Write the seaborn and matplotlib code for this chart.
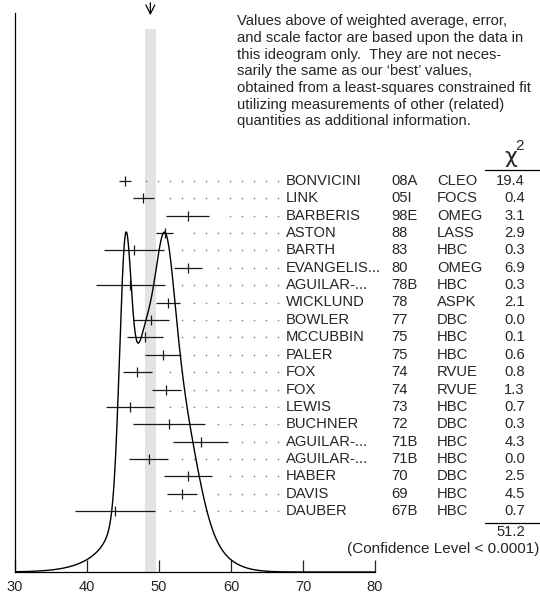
"""PDG-style ideogram of mass measurements with the weighted average band."""

import matplotlib
matplotlib.use("Agg")
import matplotlib.pyplot as plt
import numpy as np
import seaborn as sns

# measurements, top row first
authors = [
    "BONVICINI", "LINK", "BARBERIS", "ASTON", "BARTH", "EVANGELIS...",
    "AGUILAR-...", "WICKLUND", "BOWLER", "MCCUBBIN", "PALER", "FOX", "FOX",
    "LEWIS", "BUCHNER", "AGUILAR-...", "AGUILAR-...", "HABER", "DAVIS", "DAUBER",
]
years = [
    "08A", "05I", "98E", "88", "83", "80", "78B", "78", "77", "75", "75",
    "74", "74", "73", "72", "71B", "71B", "70", "69", "67B",
]
experiments = [
    "CLEO", "FOCS", "OMEG", "LASS", "HBC", "OMEG", "HBC", "ASPK", "DBC", "HBC",
    "HBC", "RVUE", "RVUE", "HBC", "DBC", "HBC", "HBC", "DBC", "HBC", "HBC",
]
values = [
    45.3, 47.8, 54.0, 50.8, 46.5, 54.0, 46.0, 51.2, 48.9, 48.0,
    50.6, 47.0, 51.0, 46.0, 51.4, 55.8, 48.6, 54.0, 53.2, 43.9,
]
errors = [
    0.8, 1.45, 3.0, 1.2, 4.2, 1.95, 4.8, 1.65, 2.45, 2.5,
    2.5, 2.0, 2.0, 3.3, 5.0, 3.8, 2.7, 3.3, 2.1, 5.5,
]
chi2 = [
    19.4, 0.4, 3.1, 2.9, 0.3, 6.9, 0.3, 2.1, 0.0, 0.1,
    0.6, 0.8, 1.3, 0.7, 0.3, 4.3, 0.0, 2.5, 4.5, 0.7,
]
chi2_total = 51.2
confidence_label = "(Confidence Level < 0.0001)"
weighted_avg = 48.8
weighted_err = 0.74
x_ticks = [30, 40, 50, 60, 70, 80]

note_lines = [
    "Values above of weighted average, error,",
    "and scale factor are based upon the data in",
    "this ideogram only.  They are not neces-",
    "sarily the same as our \u2018best\u2019 values,",
    "obtained from a least-squares constrained fit",
    "utilizing measurements of other (related)",
    "quantities as additional information.",
]

sns.set_style("white")
plt.rcParams["font.family"] = ["Liberation Sans", "DejaVu Sans"]

W, H = 540, 595
fig = plt.figure(figsize=(W / 100, H / 100), dpi=100)
ax = fig.add_axes([15 / W, 23 / H, 360 / W, 559 / H])

rows = np.arange(len(values))
vals = np.array(values)
errs = np.array(errors)

# row units: row 0 sits 167.7 px below the top of the axes, rows 17.4 px apart
row_px = 17.4
y_top = -167.7 / row_px
y_bot = y_top + 559 / row_px
ax.set_xlim(30, 80)
ax.set_ylim(y_bot, y_top)

# weighted-average band and arrow
band_top = 1 - 16 / 559
ax.axvspan(weighted_avg - weighted_err, weighted_avg + weighted_err,
           ymin=0, ymax=band_top, color="#e3e3e3", lw=0, zorder=0)
ax.annotate("", xy=(weighted_avg, y_top + 5 / row_px),
            xytext=(weighted_avg, y_top - 13 / row_px),
            arrowprops=dict(arrowstyle="->", color="black", lw=0.9,
                            mutation_scale=16),
            annotation_clip=False)

# error bars with a centre tick
ax.errorbar(vals, rows, xerr=errs, fmt="none", ecolor="#1a1a1a",
            elinewidth=0.9, capsize=0, zorder=3)
ax.plot(vals, rows, ls="none", marker="|", ms=7.5, mew=0.9, color="#1a1a1a",
        zorder=3)

# dotted leaders to the names
dot_grid = np.arange(48.19, 66.6, 12 / 7.2)
for r, v, e in zip(rows, vals, errs):
    dots = dot_grid[dot_grid > v + e + 1.5]
    ax.plot(dots, np.full(len(dots), r), ls="none", marker="s", ms=1.0,
            mew=0, color="#777777", zorder=2)

# ideogram curve: one gaussian per measurement, area ~ 1/sigma
xs = np.linspace(30, 80, 1200)
curve = np.zeros_like(xs)
for v, e in zip(vals, errs):
    curve += np.exp(-0.5 * ((xs - v) / e) ** 2) / e ** 2
ax2 = ax.twinx()
ax2.set_ylim(0, curve.max() * 559 / 340)
ax2.plot(xs, curve, color="black", lw=1.0)
ax2.set_axis_off()

# text columns
fs = 10.6
for r in rows:
    ax.text(67.65, r, authors[r], fontsize=fs, va="center", ha="left")
    ax.text(82.3, r, years[r], fontsize=fs, va="center", ha="left")
    ax.text(88.6, r, experiments[r], fontsize=fs, va="center", ha="left")
    ax.text(100.8, r, f"{chi2[r]:.1f}", fontsize=fs, va="center", ha="right")

x_px = lambda px: 30 + (px - 15) / 7.2
y_px = lambda py: y_top + (py - 13) / row_px

ax.text(x_px(511), y_px(157), "\u03c7", fontsize=16, ha="center",
        va="center", family="DejaVu Sans")
ax.text(x_px(520), y_px(146), "2", fontsize=11, ha="center", va="center")
ax.plot([x_px(485), x_px(540)], [y_px(169.5)] * 2, color="black", lw=0.9,
        clip_on=False)
ax.plot([x_px(485), x_px(540)], [y_px(523.3)] * 2, color="black", lw=0.9,
        clip_on=False)
ax.text(100.8, y_px(532), f"{chi2_total:.1f}", fontsize=fs, ha="right",
        va="center")
ax.text(x_px(539), y_px(549.5), confidence_label, fontsize=11, ha="right",
        va="center")

for i, line in enumerate(note_lines):
    ax.text(x_px(237), y_px(21.5 + 16.6 * i), line, fontsize=10.7,
            ha="left", va="center")

# axes styling
ax.set_yticks([])
ax.set_xticks(x_ticks)
ax.tick_params(axis="x", direction="in", length=9, width=0.9, labelsize=10.5,
               pad=6, bottom=True)
for side in ["top", "right"]:
    ax.spines[side].set_visible(False)
for side in ["left", "bottom"]:
    ax.spines[side].set_color("black")
    ax.spines[side].set_linewidth(0.9)

fig.savefig("out.png", dpi=100)
